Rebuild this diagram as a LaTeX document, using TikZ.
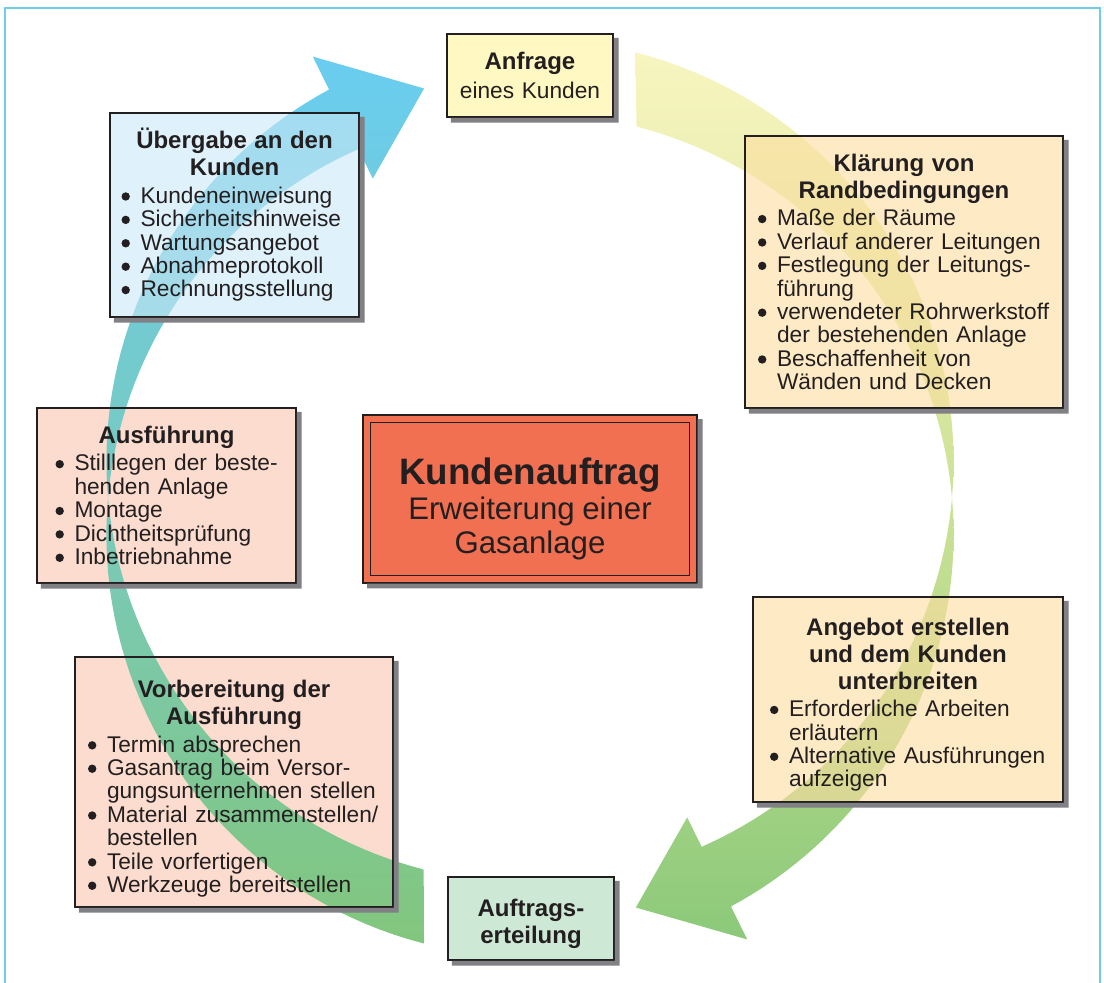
\documentclass[tikz,border=0pt]{standalone}
\usepackage{fontspec}
\setmainfont{Liberation Sans}
\usepackage{pict2e}
\usepackage{tikz}
\usetikzlibrary{calc}
\pgfdeclarelayer{back}
\pgfdeclarelayer{ribbon}
\pgfsetlayers{back,ribbon,main}

\definecolor{ink}{RGB}{35,31,32}
\definecolor{framecyan}{RGB}{110,206,232}
\definecolor{shadowgray}{RGB}{128,128,133}
\definecolor{anfrageC}{RGB}{255,248,195}
\definecolor{klaerC}{RGB}{253,222,160}
\definecolor{blueboxC}{RGB}{202,232,247}
\definecolor{rosaC}{RGB}{252,220,206}
\definecolor{mintC}{RGB}{205,232,213}
\definecolor{kundeC}{RGB}{242,112,82}
\definecolor{ryellow}{RGB}{248,245,192}
\definecolor{rlime}{RGB}{205,226,150}
\definecolor{rgreen}{RGB}{140,201,122}
\definecolor{lblue}{RGB}{106,205,240}
\definecolor{lteal}{RGB}{120,202,190}
\definecolor{lgreen}{RGB}{130,198,125}

\hyphenpenalty=10000
\newcommand{\bodyfont}{\fontsize{11.35}{11.7}\selectfont}
\newcommand{\ttl}[1]{{\centering\bfseries\fontsize{12}{13.5}\selectfont #1\par}}
\newcommand{\dotmark}{\begin{picture}(0,0)\put(2.6,3.4){\circle*{4.2}}\end{picture}}
\newcommand{\itm}[1]{{\raggedright\hangindent=10pt\hangafter=1\noindent\makebox[10pt][l]{\dotmark}#1\par}}
\def\shd{2.4pt}
\newcommand{\boxshadow}[1]{\fill[shadowgray] ([yshift=-\shd]#1.north east) -- ([xshift=\shd,yshift=-\shd]#1.north east) -- ([xshift=\shd,yshift=-\shd]#1.south east) -- ([xshift=\shd,yshift=-\shd]#1.south west) -- ([xshift=\shd]#1.south west) -- (#1.south east) -- cycle;}

\begin{document}
\begin{tikzpicture}[x=0.5pt, y=-0.5pt,
  box/.style={draw=ink, line width=0.9pt, inner sep=0pt, text=ink, font=\bodyfont},
  veil/.style={fill=#1, fill opacity=0.6, text opacity=1}]

 \useasboundingbox (0,0) rectangle (1104,983);
 \draw[framecyan, line width=1pt] (5,983) -- (5,8) -- (1100,8) -- (1100,983);

 %Boxes
 \node[box, fill=anfrageC, minimum width=83pt, minimum height=41.5pt, text width=80pt] (anfrage) at (530,75.5)
   {\ttl{Anfrage}\vskip2.5pt{\centering eines Kunden\par}};

 \node[box, veil=klaerC, minimum width=159pt, minimum height=136pt, text width=147pt] (klaerung) at (904,272)
   {\ttl{Klärung von\\Randbedingungen}\vskip2pt
    \itm{Maße der Räume}
    \itm{Verlauf anderer Leitungen}
    \itm{Festlegung der Leitungs-\newline führung}
    \itm{verwendeter Rohrwerkstoff\newline der bestehenden Anlage}
    \itm{Beschaffenheit von\newline Wänden und Decken}};

 \node[box, veil=klaerC, minimum width=155pt, minimum height=102.5pt, text width=139pt] (angebot) at (908,699.5)
   {\vskip0.5pt\ttl{Angebot erstellen\\und dem Kunden\\unterbreiten}\vskip2pt
    \itm{Erforderliche Arbeiten\newline erläutern}
    \itm{Alternative Ausführungen\newline aufzeigen}};

 \node[box, fill=mintC, minimum width=83pt, minimum height=41.5pt, text width=80pt] (auftrag) at (531,918.5)
   {\vskip0.7pt\ttl{Auftrags-\\erteilung}};

 \node[box, minimum width=159pt, minimum height=125pt, text width=147pt] (vorbereitung) at (234,782)
   {\vskip2pt\ttl{Vorbereitung der\\Ausführung}\vskip2pt
    \itm{Termin absprechen}
    \itm{Gasantrag beim Versor-\newline gungsunternehmen stellen}
    \itm{Material zusammenstellen/\newline bestellen}
    \itm{Teile vorfertigen}
    \itm{Werkzeuge bereitstellen}};

 \node[box, minimum width=129.5pt, minimum height=87.5pt, text width=112pt] (ausfuehrung) at (166.5,495.5)
   {\ttl{Ausführung}\vskip2pt
    \itm{Stilllegen der beste-\newline henden Anlage}
    \itm{Montage}
    \itm{Dichtheitsprüfung}
    \itm{Inbetriebnahme}};

 \node[box, veil=blueboxC, minimum width=124.5pt, minimum height=102pt, text width=114pt] (uebergabe) at (234.5,215)
   {\ttl{Übergabe an den\\Kunden}\vskip2pt
    \itm{Kundeneinweisung}
    \itm{Sicherheitshinweise}
    \itm{Wartungsangebot}
    \itm{Abnahmeprotokoll}
    \itm{Rechnungsstellung}};

 \node[box, fill=kundeC, line width=0.7pt, minimum width=167pt, minimum height=84pt, text width=160pt] (kunde) at (530,499)
   {\vskip3.2pt\centering{\bfseries\fontsize{18.4}{20}\selectfont Kundenauftrag\par}\vskip0.7pt
    \fontsize{15.6}{16.8}\selectfont Erweiterung einer\\Gasanlage\par};
 \draw[ink, line width=0.7pt] ($(kunde.north west)+(8,8)$) rectangle ($(kunde.south east)+(-8,-8)$);

 \begin{pgfonlayer}{back}
 \foreach \n/\c in {vorbereitung/rosaC, ausfuehrung/rosaC}
   \fill[\c] (\n.north west) rectangle (\n.south east);
 \end{pgfonlayer}

 \foreach \n in {anfrage,klaerung,angebot,auftrag,vorbereitung,ausfuehrung,uebergabe,kunde}
   \boxshadow{\n};

 %Ribbons
 \def\cx{530}
 \def\cy{498}
 \def\rr{422}
 \def\ww{37}
 \begin{pgfonlayer}{ribbon}
 \shade[top color=ryellow, bottom color=rgreen, middle color=rlime]
   plot[variable=\t, domain=76.7:0, samples=40] ({\cx+(\rr+\ww*abs(sin(\t)))*cos(\t)}, {\cy-(\rr+\ww*abs(sin(\t)))*sin(\t)})
   -- plot[variable=\t, domain=0:-63.8, samples=40] ({\cx+(\rr+\ww*abs(sin(\t)))*cos(\t)}, {\cy-(\rr+\ww*abs(sin(\t)))*sin(\t)})
   -- ({\cx+492*cos(-63.8)}, {\cy-492*sin(-63.8)})
   -- ({\cx+423*cos(-75.5)}, {\cy-423*sin(-75.5)})
   -- ({\cx+356*cos(-63.8)}, {\cy-356*sin(-63.8)})
   -- plot[variable=\t, domain=-63.8:0, samples=40] ({\cx+(\rr-\ww*abs(sin(\t)))*cos(\t)}, {\cy-(\rr-\ww*abs(sin(\t)))*sin(\t)})
   -- plot[variable=\t, domain=0:74, samples=40] ({\cx+(\rr-\ww*abs(sin(\t)))*cos(\t)}, {\cy-(\rr-\ww*abs(sin(\t)))*sin(\t)})
   -- cycle;

 \shade[top color=lblue, bottom color=lgreen, middle color=lteal]
   plot[variable=\t, domain=256.7:180, samples=40] ({\cx+(\rr+\ww*abs(sin(\t)))*cos(\t)}, {\cy-(\rr+\ww*abs(sin(\t)))*sin(\t)})
   -- plot[variable=\t, domain=180:116.2, samples=40] ({\cx+(\rr+\ww*abs(sin(\t)))*cos(\t)}, {\cy-(\rr+\ww*abs(sin(\t)))*sin(\t)})
   -- ({\cx+492*cos(116.2)}, {\cy-492*sin(116.2)})
   -- ({\cx+423*cos(104.5)}, {\cy-423*sin(104.5)})
   -- ({\cx+356*cos(116.2)}, {\cy-356*sin(116.2)})
   -- plot[variable=\t, domain=116.2:180, samples=40] ({\cx+(\rr-\ww*abs(sin(\t)))*cos(\t)}, {\cy-(\rr-\ww*abs(sin(\t)))*sin(\t)})
   -- plot[variable=\t, domain=180:254, samples=40] ({\cx+(\rr-\ww*abs(sin(\t)))*cos(\t)}, {\cy-(\rr-\ww*abs(sin(\t)))*sin(\t)})
   -- cycle;
 \end{pgfonlayer}

\end{tikzpicture}
\end{document}
